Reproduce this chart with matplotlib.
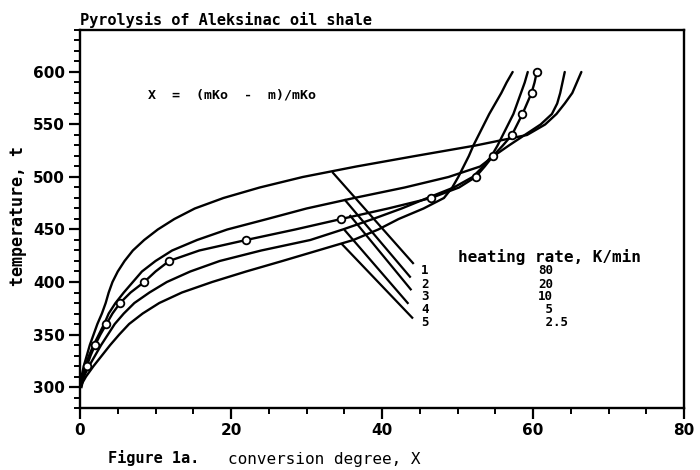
import numpy as np
import matplotlib
matplotlib.use("Agg")
import matplotlib.pyplot as plt
from matplotlib.ticker import MultipleLocator

# ----------------------------------------------------
# Pyrolysis of Aleksinac oil shale
#
# temperature t vs conversion degree X
# for five heating rates (curves 1..5)
# ----------------------------------------------------

# ----------------------------------------------------
# Data
# ----------------------------------------------------

temp = [300, 310, 320, 330, 340, 350, 360, 370, 380, 390,
        400, 410, 420, 430, 440, 450, 460, 470, 480, 490,
        500, 510, 520, 530, 540, 550, 560, 570, 580, 590, 600]

# curve 1 - 80 K/min
x1 = [0.0, 0.2, 0.5, 0.9, 1.3, 1.8, 2.3, 2.9, 3.4, 3.8,
      4.3, 5.0, 5.9, 7.0, 8.5, 10.3, 12.5, 15.2, 19.0, 23.8,
      29.5, 36.6, 44.4, 52.4, 59.2, 61.6, 63.1, 64.2, 65.2, 65.8, 66.4]

# curve 2 - 20 K/min
x2 = [0.1, 0.3, 0.7, 1.2, 1.8, 2.5, 3.2, 3.8, 4.7, 5.8,
      7.0, 8.2, 10.0, 12.2, 15.5, 19.5, 24.8, 30.0, 36.3, 43.0,
      48.8, 53.0, 54.8, 56.8, 58.9, 61.0, 62.5, 63.2, 63.6, 63.9, 64.2]

# curve 3 - 10 K/min (open circles every 20 degrees)
x3 = [0.2, 0.5, 0.9, 1.4, 2.0, 2.7, 3.5, 4.3, 5.3, 6.7,
      8.5, 10.0, 11.8, 15.8, 22.0, 28.5, 34.6, 40.8, 46.5, 50.2,
      52.4, 53.6, 54.7, 56.0, 57.2, 57.9, 58.6, 59.2, 59.8, 60.2, 60.5]

# curve 4 - 5 K/min
x4 = [0.1, 0.5, 1.2, 2.0, 2.8, 3.7, 4.6, 5.8, 7.2, 9.2,
      11.5, 14.6, 18.5, 24.0, 30.5, 34.8, 38.8, 42.6, 46.0, 49.5,
      52.0, 53.4, 54.5, 55.3, 56.0, 56.7, 57.4, 57.9, 58.4, 58.9, 59.3]

# curve 5 - 2.5 K/min
x5 = [0.0, 0.8, 1.8, 2.9, 4.0, 5.2, 6.5, 8.3, 10.5, 13.5,
      17.5, 22.0, 26.8, 31.5, 36.2, 39.5, 42.2, 45.5, 48.2, 49.3,
      50.1, 50.8, 51.5, 52.1, 52.8, 53.5, 54.2, 55.0, 55.8, 56.5, 57.3]

curve_ids = ["1", "2", "3", "4", "5"]
rates = ["80", "20", "10", " 5", " 2.5"]

# ----------------------------------------------------
# Figure
# ----------------------------------------------------

mono = "DejaVu Sans Mono"

fig = plt.figure(figsize=(7, 4.7), dpi=100)
ax = fig.add_axes([0.1143, 0.1319, 0.8629, 0.8043])

lw = 1.7
for xs in (x1, x2, x4, x5):
    ax.plot(xs, temp, color="black", linewidth=lw, solid_capstyle="round")

ax.plot(
    x3, temp,
    color="black",
    linewidth=lw,
    marker="o",
    markersize=5.5,
    markerfacecolor="white",
    markeredgecolor="black",
    markeredgewidth=1.3,
    markevery=list(range(2, len(temp), 2))
)

# ----------------------------------------------------
# Leader lines from the curves to the numbers
# ----------------------------------------------------

leader_start = [(33.5, 504), (35.1, 478), (35.8, 463), (35.1, 449), (34.7, 436)]
leader_end = [(44.1, 418), (43.7, 405), (43.8, 393), (43.4, 380), (44.0, 366)]
label_y = [411, 398, 386, 374, 361]

for (xs0, ys0), (xe, ye), cid, rate, ly in zip(leader_start, leader_end,
                                               curve_ids, rates, label_y):
    ax.plot([xs0, xe], [ys0, ye], color="black", linewidth=1.6)
    ax.text(45.7, ly, cid, family=mono, fontweight="bold", fontsize=9,
            ha="center", va="center")
    ax.text(60.7, ly, rate, family=mono, fontweight="bold", fontsize=9,
            ha="left", va="center")

ax.text(50.1, 423.5, "heating rate, K/min", family=mono, fontweight="bold",
        fontsize=11.5, ha="left", va="center")

ax.text(9.0, 578, "X  =  (mKo  -  m)/mKo", family=mono, fontweight="bold",
        fontsize=9.5, ha="left", va="center")

# ----------------------------------------------------
# Axes
# ----------------------------------------------------

ax.set_xlim(0, 80)
ax.set_ylim(280, 640)

ax.xaxis.set_major_locator(MultipleLocator(20))
ax.xaxis.set_minor_locator(MultipleLocator(5))
ax.yaxis.set_minor_locator(MultipleLocator(10))
ax.set_yticks([300, 350, 400, 450, 500, 550, 600])

ax.tick_params(which="major", direction="out", length=8, width=1.6,
               labelsize=11, pad=3)
ax.tick_params(which="minor", direction="out", length=4, width=1.4)
for lab in ax.get_xticklabels() + ax.get_yticklabels():
    lab.set_fontweight("bold")

for sp in ax.spines.values():
    sp.set_linewidth(1.7)

ax.text(0.0, 1.005, "Pyrolysis of Aleksinac oil shale", transform=ax.transAxes,
        family=mono, fontweight="bold", fontsize=11, ha="left", va="bottom")

fig.text(0.026, 0.54, "temperature, t", family=mono, fontweight="bold",
         fontsize=12, rotation=90, ha="center", va="center")

fig.text(0.154, 0.025, "Figure 1a.", family=mono, fontweight="bold",
         fontsize=11, ha="left", va="center")
fig.text(0.326, 0.022, "conversion degree, X", family=mono,
         fontsize=11.5, ha="left", va="center")

fig.savefig("out.png", dpi=100)
